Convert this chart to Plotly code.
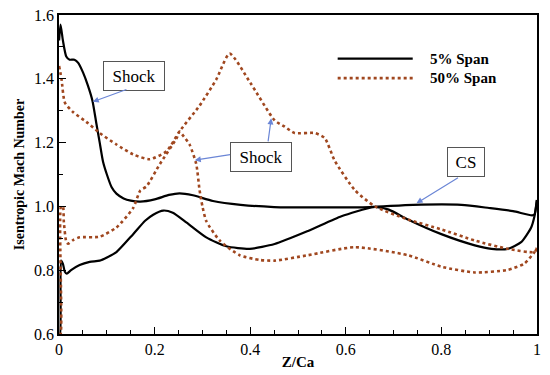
import plotly.graph_objects as go

# 5% span: suction side (upper) and pressure side (lower)
x5_ss = [0, 0.003, 0.008, 0.015, 0.022, 0.032, 0.04, 0.05, 0.06, 0.07, 0.078, 0.085, 0.092, 0.1, 0.11,
         0.12, 0.135, 0.15, 0.17, 0.2, 0.23, 0.252, 0.28, 0.322, 0.38, 0.45, 0.55, 0.65, 0.741, 0.842,
         0.9, 0.95, 0.99, 0.995, 1.0]
y5_ss = [1.52, 1.57, 1.52, 1.47, 1.46, 1.46, 1.45, 1.42, 1.38, 1.33, 1.26, 1.2, 1.14, 1.1, 1.06,
         1.04, 1.025, 1.018, 1.015, 1.022, 1.036, 1.041, 1.035, 1.017, 1.005, 0.998, 0.997, 0.998, 1.005, 1.005,
         0.995, 0.985, 0.972, 0.975, 1.02]
x5_ps = [0, 0.002, 0.004, 0.008, 0.012, 0.016, 0.025, 0.043, 0.064, 0.085, 0.1, 0.12, 0.155, 0.18, 0.197,
         0.218, 0.238, 0.267, 0.308, 0.35, 0.399, 0.451, 0.521, 0.591, 0.653, 0.665, 0.69, 0.73, 0.8, 0.87,
         0.905, 0.939, 0.967, 0.988, 0.995, 1.0]
y5_ps = [0.6, 0.6, 0.83, 0.82, 0.795, 0.789, 0.8, 0.816, 0.826, 0.83, 0.84, 0.857, 0.913, 0.955, 0.974,
         0.987, 0.98, 0.949, 0.903, 0.875, 0.867, 0.882, 0.923, 0.969, 0.997, 0.998, 0.99, 0.959, 0.913, 0.878,
         0.867, 0.867, 0.888, 0.934, 0.97, 1.02]

# 50% span: suction side (upper) and pressure side (lower)
x50_ss = [0, 0.005, 0.012, 0.029, 0.057, 0.085, 0.12, 0.155, 0.19, 0.225, 0.252, 0.294, 0.329, 0.357,
          0.4, 0.451, 0.472, 0.493, 0.535, 0.556, 0.577, 0.619, 0.661, 0.73, 0.8, 0.87, 0.939, 0.995, 1.0]
y50_ss = [1.44, 1.4, 1.326, 1.296, 1.265, 1.23, 1.194, 1.163, 1.148, 1.173, 1.235, 1.316, 1.398, 1.479,
          1.388, 1.27, 1.25, 1.23, 1.23, 1.214, 1.143, 1.051, 1.0, 0.959, 0.928, 0.893, 0.867, 0.857, 0.87]
x50_ps = [0, 0.003, 0.004, 0.008, 0.01, 0.015, 0.019, 0.03, 0.043, 0.085, 0.12, 0.155, 0.17, 0.183,
          0.211, 0.246, 0.252, 0.258, 0.273, 0.287, 0.294, 0.3, 0.308, 0.336, 0.378, 0.42, 0.451, 0.521,
          0.619, 0.73, 0.8, 0.87, 0.939, 0.974, 0.995, 1.0]
y50_ps = [0.6, 0.6, 1.0, 1.0, 0.95, 0.89, 0.883, 0.895, 0.903, 0.905, 0.934, 0.995, 1.05, 1.063,
          1.133, 1.214, 1.235, 1.225, 1.194, 1.133, 1.051, 1.0, 0.954, 0.893, 0.847, 0.832, 0.83, 0.847,
          0.872, 0.847, 0.811, 0.793, 0.801, 0.821, 0.857, 0.87]

series_names = ["5% Span", "50% Span"]
x_ticks = [0, 0.2, 0.4, 0.6, 0.8, 1]
x_tick_labels = ["0", "0.2", "0.4", "0.6", "0.8", "1"]
y_ticks = [0.6, 0.8, 1.0, 1.2, 1.4, 1.6]
y_tick_labels = ["0.6", "0.8", "1.0", "1.2", "1.4", "1.6"]

BLACK = "#000000"
RED = "#a0471f"
ARROW = "#6b86d6"
FONT = "Liberation Serif, 'Times New Roman', 'DejaVu Serif', serif"

fig = go.Figure()
fig.add_trace(go.Scatter(x=x5_ss + [None] + x5_ps, y=y5_ss + [None] + y5_ps, mode="lines",
                         name=series_names[0], connectgaps=False, showlegend=False,
                         line=dict(color=BLACK, width=2.2, shape="spline", smoothing=0.6)))
fig.add_trace(go.Scatter(x=x50_ss + [None] + x50_ps, y=y50_ss + [None] + y50_ps, mode="lines",
                         name=series_names[1], connectgaps=False, showlegend=False,
                         line=dict(color=RED, width=2.6, dash="dot", shape="spline", smoothing=0.6)))

# manual legend
fig.add_shape(type="line", xref="paper", yref="paper", x0=0.583, x1=0.740, y0=0.863, y1=0.863,
              line=dict(color=BLACK, width=2.2))
fig.add_shape(type="line", xref="paper", yref="paper", x0=0.583, x1=0.740, y0=0.802, y1=0.802,
              line=dict(color=RED, width=2.6, dash="dot"))
for nm, yy in zip(series_names, [0.863, 0.802]):
    fig.add_annotation(text="<b>" + nm + "</b>", xref="paper", yref="paper", x=0.771, y=yy,
                       xanchor="left", yanchor="middle", showarrow=False,
                       font=dict(family=FONT, size=15, color="black"))

# annotation boxes
boxes = [("Shock", 0.157, 1.41, 56), ("Shock", 0.423, 1.156, 56), ("CS", 0.852, 1.139, 32)]
for t, bx, by, w in boxes:
    fig.add_annotation(text=t, x=bx, y=by, xref="x", yref="y", showarrow=False,
                       font=dict(family=FONT, size=17, color="black"),
                       bordercolor="#555555", borderwidth=1, borderpad=2, bgcolor="white",
                       width=w, height=24)

arrows = [(0.0705, 1.328, 0.144, 1.368), (0.284, 1.145, 0.361, 1.163),
          (0.444, 1.276, 0.437, 1.199), (0.748, 1.010, 0.838, 1.093)]
for hx, hy, tx, ty in arrows:
    fig.add_annotation(text="", x=hx, y=hy, ax=tx, ay=ty, xref="x", yref="y", axref="x", ayref="y",
                       showarrow=True, arrowhead=2, arrowsize=1, arrowwidth=1.2, arrowcolor=ARROW)

fig.update_layout(
    width=550, height=375, margin=dict(l=59, r=13, t=7, b=41),
    paper_bgcolor="white", plot_bgcolor="white",
    font=dict(family=FONT, size=15, color="black"),
    showlegend=False,
)
fig.update_xaxes(range=[-0.0002, 1.0002], tickvals=x_ticks, ticktext=x_tick_labels, ticks="inside", ticklen=7,
                 tickwidth=1.2, tickcolor="black", showline=True, linecolor="black", linewidth=1.5,
                 mirror=True, showgrid=False, zeroline=False,
                 minor=dict(tickvals=[0.05, 0.1, 0.15, 0.25, 0.3, 0.35, 0.45, 0.5, 0.55, 0.65, 0.7, 0.75,
                                      0.85, 0.9, 0.95],
                            ticks="inside", ticklen=4, tickcolor="black", showgrid=False),
                 title=dict(text="<b>Z/Ca</b>", font=dict(family=FONT, size=15), standoff=0),
                 tickfont=dict(family=FONT, size=16))
fig.update_yaxes(range=[0.6, 1.6], tickvals=y_ticks, ticktext=y_tick_labels, ticks="inside", ticklen=7,
                 tickwidth=1.2, tickcolor="black", showline=True, linecolor="black", linewidth=1.5,
                 mirror=True, showgrid=False, zeroline=False,
                 minor=dict(tickvals=[0.7, 0.9, 1.1, 1.3, 1.5], ticks="inside", ticklen=4,
                            tickcolor="black", showgrid=False),
                 title=dict(text="<b>Isentropic Mach Number</b>", font=dict(family=FONT, size=14), standoff=6),
                 tickfont=dict(family=FONT, size=16))

fig.write_html("out.html", config={"displayModeBar": False},
               post_script="document.body.style.margin='0';document.body.style.overflow='hidden';")
